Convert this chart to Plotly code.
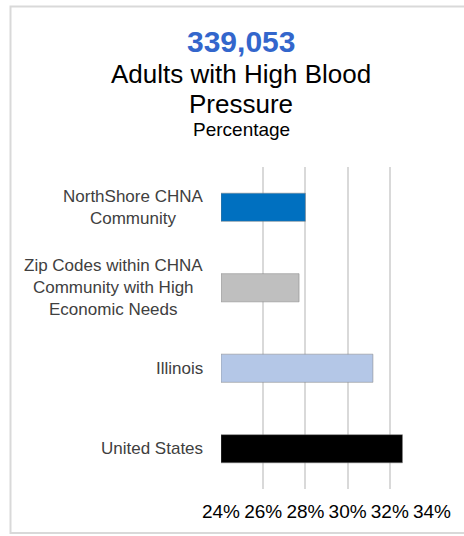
import plotly.graph_objects as go

categories = ["NorthShore CHNA<br>Community",
              "Zip Codes within CHNA<br>Community with High<br>Economic Needs",
              "Illinois",
              "United States"]
values = [28.0, 27.7, 31.2, 32.6]
colors = ["#0070C0", "#BFBFBF", "#B4C7E7", "#000000"]
tick_vals = [24, 26, 28, 30, 32, 34]
tick_text = ["24%", "26%", "28%", "30%", "32%", "34%"]

W, H = 464, 536
ML, MR, MT, MB = 221, 32, 167, 47
PW = W - ML - MR
PH = H - MT - MB

def px(xp):
    return (xp - ML) / PW

def py(yp):
    return (H - MB - yp) / PH

fig = go.Figure(go.Bar(
    x=[v - 24 for v in values], base=24, y=categories, orientation="h",
    marker=dict(color=colors, line=dict(color="#7F7F7F", width=0.5)),
    width=0.35,
))

font = "Liberation Sans, Arial, sans-serif"
cx = px(241)
annotations = [
    dict(text="<b>339,053</b>", x=cx, y=py(41), font=dict(size=30, color="#3366CC", family=font)),
    dict(text="Adults with High Blood", x=cx, y=py(74), font=dict(size=26, color="#000000", family=font)),
    dict(text="Pressure", x=cx, y=py(104), font=dict(size=26, color="#000000", family=font)),
    dict(text="Percentage", x=cx, y=py(129), font=dict(size=19, color="#000000", family=font)),
]
for a in annotations:
    a.update(xref="paper", yref="paper", xanchor="center", yanchor="middle", showarrow=False)

# category labels, centre-aligned like the original
for c in categories:
    annotations.append(dict(text=c, x=px(205), y=c, xref="paper", yref="y",
                            xanchor="right", yanchor="middle", align="center",
                            showarrow=False,
                            font=dict(size=17, color="#404040", family=font)))

fig.update_layout(
    width=W, height=H,
    margin=dict(l=ML, r=MR, t=MT, b=MB, pad=0),
    paper_bgcolor="white", plot_bgcolor="white",
    showlegend=False,
    annotations=annotations,
    shapes=[dict(type="rect", xref="paper", yref="paper",
                 x0=px(10.5), x1=px(475), y0=py(533), y1=py(6.5),
                 line=dict(color="#D9D9D9", width=2), fillcolor="rgba(0,0,0,0)", layer="below")],
    font=dict(family=font),
)
fig.update_xaxes(range=[24, 34], tickvals=tick_vals, ticktext=tick_text,
                 showgrid=True, gridcolor="#D9D9D9", gridwidth=1.5,
                 zeroline=False, showline=False, ticks="",
                 tickfont=dict(size=19, color="#000000", family=font),
                 ticklabelstandoff=9, fixedrange=True)
fig.update_yaxes(autorange="reversed", showgrid=False, zeroline=False, showline=False,
                 ticks="", showticklabels=False, fixedrange=True)

fig.write_html("out.html", config={"displayModeBar": False})
